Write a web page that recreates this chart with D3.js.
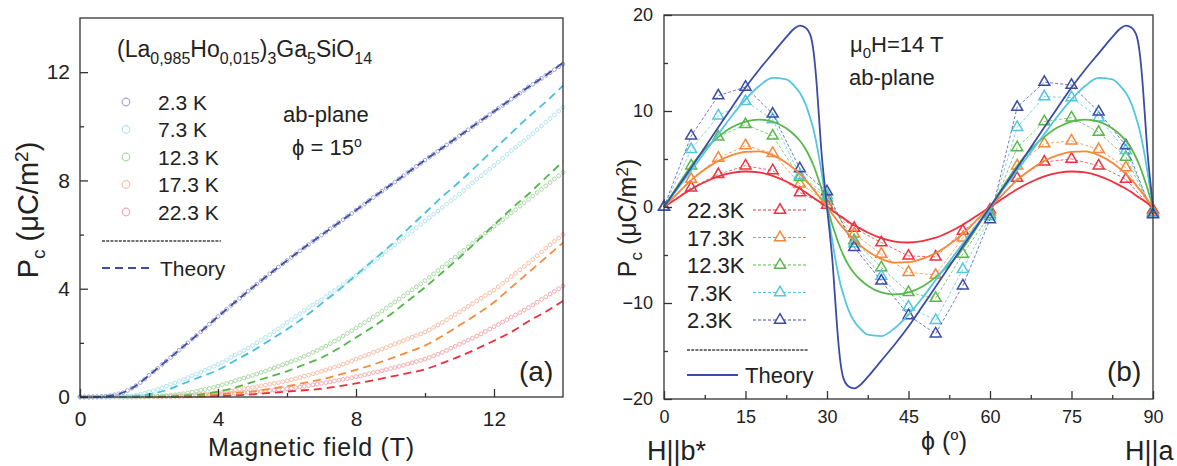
<!DOCTYPE html>
<html><head><meta charset="utf-8">
<script src="https://cdn.jsdelivr.net/npm/d3@7"></script>
<style>
body{margin:0;background:#fff}
svg{display:block}
text{font-family:"Liberation Sans",Arial,Helvetica,sans-serif;fill:#222}
</style>
</head><body>
<svg id="c" width="1177" height="466"></svg>
<script>
// ---------- DATA: panel (a) ----------
const tempLabelsA = ["2.3 K","7.3 K","12.3 K","17.3 K","22.3 K"];
const fieldData = [
 0,0.125,0.25,0.375,0.5,0.625,0.75,0.875,
 1,1.125,1.25,1.375,1.5,1.625,1.75,1.875,
 2,2.125,2.25,2.375,2.5,2.625,2.75,2.875,
 3,3.125,3.25,3.375,3.5,3.625,3.75,3.875,
 4,4.125,4.25,4.375,4.5,4.625,4.75,4.875,
 5,5.125,5.25,5.375,5.5,5.625,5.75,5.875,
 6,6.125,6.25,6.375,6.5,6.625,6.75,6.875,
 7,7.125,7.25,7.375,7.5,7.625,7.75,7.875,
 8,8.125,8.25,8.375,8.5,8.625,8.75,8.875,
 9,9.125,9.25,9.375,9.5,9.625,9.75,9.875,
 10,10.125,10.25,10.375,10.5,10.625,10.75,10.875,
 11,11.125,11.25,11.375,11.5,11.625,11.75,11.875,
 12,12.125,12.25,12.375,12.5,12.625,12.75,12.875,
 13,13.125,13.25,13.375,13.5,13.625,13.75,13.875,14];
const pc23 = [0,0,0,0.005,0.01,0.02,0.03,0.05,0.08,0.12,
 0.16,0.24,0.32,0.42,0.53,0.66,0.8,0.93,1.06,1.2,
 1.33,1.46,1.6,1.73,1.87,2.0,2.14,2.27,2.41,2.55,
 2.69,2.83,2.97,3.11,3.24,3.38,3.51,3.65,3.78,3.91,
 4.04,4.17,4.3,4.42,4.55,4.67,4.8,4.92,5.04,5.16,
 5.28,5.4,5.52,5.63,5.75,5.86,5.98,6.09,6.21,6.32,
 6.44,6.55,6.67,6.78,6.9,7.01,7.13,7.25,7.37,7.48,
 7.6,7.71,7.83,7.94,8.06,8.17,8.29,8.4,8.52,8.63,
 8.75,8.86,8.97,9.08,9.2,9.31,9.42,9.53,9.65,9.76,
 9.87,9.98,10.1,10.21,10.32,10.43,10.55,10.66,10.77,10.88,
 11.0,11.11,11.22,11.33,11.45,11.55,11.66,11.77,11.88,11.98,
 12.09,12.2,12.3];
const pc73 = [0,0,0,0,0,0,0,0.005,0.01,0.015,
 0.02,0.03,0.04,0.07,0.1,0.14,0.18,0.23,0.28,0.34,
 0.4,0.46,0.52,0.58,0.65,0.71,0.78,0.85,0.92,0.99,
 1.06,1.13,1.2,1.28,1.37,1.46,1.55,1.63,1.72,1.81,
 1.9,2.0,2.1,2.2,2.3,2.41,2.52,2.63,2.75,2.86,
 2.97,3.08,3.2,3.3,3.4,3.5,3.6,3.71,3.82,3.93,
 4.05,4.16,4.27,4.38,4.5,4.62,4.75,4.87,5.0,5.12,
 5.25,5.37,5.5,5.62,5.75,5.87,6.0,6.12,6.25,6.37,
 6.5,6.62,6.75,6.87,7.0,7.12,7.25,7.37,7.5,7.63,
 7.77,7.91,8.05,8.17,8.3,8.42,8.55,8.68,8.82,8.96,
 9.1,9.22,9.35,9.47,9.6,9.73,9.87,10.01,10.15,10.28,
 10.42,10.56,10.7];
const pc123 = [0,0,0,0,0,0,0,0.005,0.01,0.01,
 0.01,0.01,0.01,0.015,0.02,0.02,0.02,0.025,0.03,0.04,
 0.05,0.065,0.08,0.1,0.12,0.15,0.18,0.21,0.25,0.28,
 0.32,0.36,0.4,0.45,0.5,0.55,0.6,0.65,0.7,0.75,
 0.8,0.85,0.91,0.96,1.02,1.07,1.13,1.19,1.25,1.31,
 1.37,1.43,1.5,1.57,1.65,1.72,1.8,1.88,1.97,2.06,
 2.15,2.25,2.35,2.45,2.55,2.65,2.75,2.85,2.95,3.06,
 3.17,3.28,3.4,3.51,3.62,3.73,3.85,3.96,4.07,4.18,
 4.3,4.42,4.55,4.67,4.8,4.92,5.05,5.17,5.3,5.42,
 5.55,5.67,5.8,5.92,6.05,6.17,6.3,6.42,6.55,6.67,
 6.8,6.92,7.05,7.17,7.3,7.42,7.55,7.67,7.8,7.92,
 8.05,8.17,8.3];
const pc173 = [0,0,0,0,0,0,0,0,0,0,
 0,0,0,0.005,0.01,0.01,0.01,0.015,0.02,0.02,
 0.02,0.025,0.03,0.04,0.05,0.06,0.07,0.085,0.1,0.11,
 0.12,0.135,0.15,0.175,0.2,0.225,0.25,0.275,0.3,0.325,
 0.35,0.38,0.41,0.44,0.47,0.5,0.53,0.56,0.6,0.64,
 0.68,0.72,0.77,0.81,0.86,0.9,0.95,1.0,1.05,1.1,
 1.15,1.21,1.27,1.33,1.4,1.46,1.52,1.58,1.65,1.71,
 1.77,1.83,1.9,1.96,2.02,2.08,2.15,2.21,2.27,2.33,
 2.4,2.48,2.57,2.66,2.75,2.85,2.95,3.05,3.15,3.25,
 3.35,3.45,3.55,3.65,3.75,3.85,3.95,4.07,4.2,4.32,
 4.45,4.57,4.7,4.82,4.95,5.08,5.22,5.36,5.5,5.62,
 5.75,5.87,6.0];
const pc223 = [0,0,0,0,0,0,0,0,0,0,
 0,0,0,0,0,0.005,0.01,0.01,0.01,0.015,
 0.02,0.02,0.02,0.025,0.03,0.035,0.04,0.045,0.05,0.06,
 0.07,0.085,0.1,0.11,0.12,0.13,0.14,0.15,0.16,0.17,
 0.18,0.195,0.21,0.225,0.24,0.255,0.27,0.285,0.3,0.325,
 0.35,0.375,0.4,0.425,0.45,0.475,0.5,0.53,0.56,0.59,
 0.62,0.65,0.68,0.71,0.75,0.78,0.82,0.86,0.9,0.93,
 0.97,1.01,1.05,1.09,1.13,1.17,1.22,1.26,1.31,1.35,
 1.4,1.46,1.52,1.58,1.65,1.72,1.8,1.87,1.95,2.02,
 2.1,2.17,2.25,2.33,2.42,2.51,2.6,2.68,2.77,2.86,
 2.95,3.03,3.12,3.21,3.3,3.4,3.5,3.6,3.7,3.8,
 3.9,4.0,4.1];
const fieldTheory = [0,0.5,1,1.5,2,2.5,3,3.5,4,4.5,5,5.5,6,6.5,7,7.5,8,8.5,9,9.5,10,10.5,11,11.5,12,12.5,13,13.5,14];
const th23 = [0,0,0.07,0.32,0.8,1.33,1.87,2.41,2.97,3.51,4.04,4.55,5.04,5.52,5.98,6.44,6.9,7.37,7.83,8.29,8.75,9.2,9.65,10.1,10.55,11.0,11.45,11.88,12.35];
const th73 = [0,0,0,0.02,0.1,0.25,0.5,0.75,1.0,1.35,1.7,2.1,2.5,2.95,3.45,3.95,4.5,5.05,5.6,6.2,6.8,7.4,7.95,8.55,9.15,9.75,10.35,10.9,11.5];
const th123 = [0,0,0,0,0.01,0.02,0.05,0.1,0.2,0.35,0.55,0.75,0.95,1.2,1.45,1.8,2.2,2.6,3.05,3.55,4.05,4.6,5.15,5.75,6.35,6.95,7.5,8.1,8.7];
const th173 = [0,0,0,0,0,0,0.02,0.05,0.1,0.15,0.2,0.3,0.4,0.52,0.65,0.82,1.0,1.2,1.42,1.65,1.9,2.25,2.65,3.05,3.5,4.05,4.6,5.15,5.7];
const th223 = [0,0,0,0,0,0,0.01,0.02,0.04,0.06,0.1,0.15,0.2,0.25,0.3,0.4,0.5,0.62,0.75,0.88,1.02,1.25,1.5,1.78,2.08,2.4,2.8,3.15,3.55];
const ticksA = [0,4,8,12], minorA = [2,6,10];

// ---------- DATA: panel (b) ----------
const tempLabelsB = ["2.3K","7.3K","12.3K","17.3K","22.3K"];
const phiData = [0,5,10,15,20,25,30,35,40,45,50,55,60,65,70,75,80,85,90];
const pb23  = [0,7.4,11.6,12.5,9.7,4.0,1.6,-4.2,-7.7,-11.3,-13.2,-8.2,-1.3,10.4,13.0,12.7,9.9,6.4,-0.8];
const pb73  = [0,6.0,9.5,11.0,9.1,3.3,1.2,-3.8,-7.2,-10.4,-11.8,-6.5,-1.0,8.3,11.5,11.4,9.3,5.9,-0.7];
const pb123 = [0,4.3,7.3,8.6,7.4,3.1,0.9,-3.5,-6.3,-8.9,-9.5,-4.9,-0.8,6.2,8.9,9.3,7.8,5.2,-0.6];
const pb173 = [0,2.9,5.1,6.4,5.6,2.4,0.6,-2.8,-4.9,-6.8,-7.1,-3.2,-0.5,4.3,6.6,6.9,6.0,4.1,-0.5];
const pb223 = [0,2.0,3.4,4.3,3.8,1.5,0.2,-2.2,-3.7,-5.1,-5.2,-2.5,-0.3,3.0,4.7,5.0,4.3,2.9,-0.3];
const phiTheory = [0,2.5,5,7.5,10,12.5,15,17.5,20,22.5,24,25,26,27,27.5,28,28.5,29,29.5,30,
  30.5,31,31.5,32,32.5,33,34,35,36,37.5,40,42.5,45,47.5,50,52.5,55,57.5,60,
  62.5,65,67.5,70,72.5,75,77.5,80,82.5,84,85,86,87,87.5,88,88.5,89,89.5,90];
const tb23 = [0,2.05,4.1,6.2,8.3,10.4,12.45,14.3,16.0,17.7,18.6,18.9,18.7,17.8,16.3,13.5,9.6,5.6,2.7,0,
  -2.7,-5.6,-9.6,-13.5,-16.3,-17.8,-18.7,-18.9,-18.6,-17.7,-16.0,-14.3,-12.45,-10.4,-8.3,-6.2,-4.1,-2.05,0,
  2.05,4.1,6.2,8.3,10.4,12.45,14.3,16.0,17.7,18.6,18.9,18.7,17.8,16.3,13.5,9.6,5.6,2.7,0];
const tb73 = [0,1.9,3.8,5.7,7.6,9.5,11.2,12.6,13.45,13.3,12.6,11.9,10.8,9.1,8.1,6.8,5.3,3.6,1.85,0,
  -1.85,-3.6,-5.3,-6.8,-8.1,-9.1,-10.8,-11.9,-12.6,-13.3,-13.45,-12.6,-11.2,-9.5,-7.6,-5.7,-3.8,-1.9,0,
  1.9,3.8,5.7,7.6,9.5,11.2,12.6,13.45,13.3,12.6,11.9,10.8,9.1,8.1,6.8,5.3,3.6,1.85,0];
const tb123 = [0,2.2,4.3,6.0,7.3,8.3,8.9,9.1,8.9,8.2,7.5,6.9,6.1,5.0,4.35,3.6,2.75,1.9,0.95,0,
  -0.95,-1.9,-2.75,-3.6,-4.35,-5.0,-6.1,-6.9,-7.5,-8.2,-8.9,-9.1,-8.9,-8.3,-7.3,-6.0,-4.3,-2.2,0,
  2.2,4.3,6.0,7.3,8.3,8.9,9.1,8.9,8.2,7.5,6.9,6.1,5.0,4.35,3.6,2.75,1.9,0.95,0];
const tb173 = [0,1.4,2.8,3.9,4.8,5.4,5.75,5.8,5.4,4.6,3.95,3.45,2.85,2.2,1.85,1.5,1.12,0.75,0.38,0,
  -0.38,-0.75,-1.12,-1.5,-1.85,-2.2,-2.85,-3.45,-3.95,-4.6,-5.4,-5.8,-5.75,-5.4,-4.8,-3.9,-2.8,-1.4,0,
  1.4,2.8,3.9,4.8,5.4,5.75,5.8,5.4,4.6,3.95,3.45,2.85,2.2,1.85,1.5,1.12,0.75,0.38,0];
const tb223 = [0,0.95,1.85,2.6,3.2,3.55,3.7,3.6,3.25,2.65,2.2,1.9,1.55,1.15,0.97,0.78,0.58,0.39,0.19,0,
  -0.19,-0.39,-0.58,-0.78,-0.97,-1.15,-1.55,-1.9,-2.2,-2.65,-3.25,-3.6,-3.7,-3.55,-3.2,-2.6,-1.85,-0.95,0,
  0.95,1.85,2.6,3.2,3.55,3.7,3.6,3.25,2.65,2.2,1.9,1.55,1.15,0.97,0.78,0.58,0.39,0.19,0];
const ticksBx = [0,15,30,45,60,75,90], minorBx = [7.5,22.5,37.5,52.5,67.5,82.5];
const ticksBy = [-20,-10,0,10,20], minorBy = [-15,-5,5,15];

// ---------- STYLE ----------
const darkA = ["#3d4ea0","#45bfdc","#52b548","#f48a3a","#ec2d3c"];
const paleA = ["#a3a5d2","#b3e4f0","#a9d7a3","#f8bea6","#f5a9b0"];
const colB  = ["#3b4ca4","#55c6e0","#58b84c","#f5883a","#ee3040"];
const FONT = '"Liberation Sans",Arial,Helvetica,sans-serif';

const svg = d3.select("#c");

function frameAxes(x, y, xMaj, xMin, yMaj, yMin, fs, padX, padY) {
  const g = svg.append("g");
  const y0 = y.range()[0], x0 = x.range()[0];
  g.append("g").attr("transform",`translate(0,${y0})`)
    .call(d3.axisBottom(x).tickValues(xMaj).tickSizeInner(-8).tickSizeOuter(0).tickPadding(padX).tickFormat(d3.format("d")));
  g.append("g").attr("transform",`translate(0,${y0})`)
    .call(d3.axisBottom(x).tickValues(xMin).tickSizeInner(-4).tickSizeOuter(0).tickFormat(""));
  g.append("g").attr("transform",`translate(${x0},0)`)
    .call(d3.axisLeft(y).tickValues(yMaj).tickSizeInner(-8).tickSizeOuter(0).tickPadding(padY).tickFormat(d3.format("d")));
  g.append("g").attr("transform",`translate(${x0},0)`)
    .call(d3.axisLeft(y).tickValues(yMin).tickSizeInner(-4).tickSizeOuter(0).tickFormat(""));
  g.selectAll(".domain").remove();
  g.selectAll(".tick line").attr("stroke","#333").attr("stroke-width",1.3);
  g.selectAll(".tick text").attr("font-size",fs).attr("font-family",FONT).attr("fill","#222");
  const [xa,xb] = x.range(), [ya,yb] = y.range();
  g.append("rect").attr("x",xa).attr("y",yb).attr("width",xb-xa).attr("height",ya-yb)
    .attr("fill","none").attr("stroke","#333").attr("stroke-width",1.3);
}

function richText(parent, x, y, parts, fs, sfs, off) {
  const t = parent.append("text").attr("x",x).attr("y",y).attr("font-size",fs);
  let cur = 0;
  parts.forEach(p => {
    const target = p.sub ? off : (p.sup ? -off*1.4 : 0);
    t.append("tspan").attr("dy",target-cur).attr("font-size",(p.sub||p.sup)?sfs:fs).text(p.t);
    cur = target;
  });
  return t;
}

// ================= PANEL (a) =================
const xA = d3.scaleLinear().domain([0,14]).range([80,563]);
const yA = d3.scaleLinear().domain([0,14]).range([397,18]);

const dataA = [pc23,pc73,pc123,pc173,pc223];
const theoA = [th23,th73,th123,th173,th223];
const lineA = d3.line().x(d=>xA(d[0])).y(d=>yA(d[1])).curve(d3.curveMonotoneX);

for (let i = dataA.length-1; i >= 0; i--) {
  svg.append("g").selectAll("circle").data(fieldData.map((b,k)=>[b,dataA[i][k]])).join("circle")
    .attr("cx",d=>xA(d[0])).attr("cy",d=>yA(d[1])).attr("r",1.9)
    .attr("fill","none").attr("stroke",paleA[i]).attr("stroke-width",1);
}
for (let i = theoA.length-1; i >= 0; i--) {
  svg.append("path").datum(fieldTheory.map((b,k)=>[b,theoA[i][k]]))
    .attr("d",lineA).attr("fill","none").attr("stroke",darkA[i])
    .attr("stroke-width",1.8).attr("stroke-dasharray","8,5");
}
frameAxes(xA, yA, ticksA, minorA, ticksA, minorA, 21, 14, 10);

richText(svg, 117, 57, [{t:"(La"},{t:"0,985",sub:1},{t:"Ho"},{t:"0,015",sub:1},{t:")"},{t:"3",sub:1},{t:"Ga"},{t:"5",sub:1},{t:"SiO"},{t:"14",sub:1}], 23, 16, 7);
tempLabelsA.forEach((s,i) => {
  const cy = 102 + i*27.5;
  svg.append("circle").attr("cx",126).attr("cy",cy).attr("r",3.8).attr("fill","none").attr("stroke",paleA[i]).attr("stroke-width",1.2);
  svg.append("text").attr("x",158).attr("y",cy+7.5).attr("font-size",21).text(s);
});
svg.append("line").attr("x1",102).attr("x2",221).attr("y1",241).attr("y2",241)
  .attr("stroke","#444").attr("stroke-width",1.6).attr("stroke-dasharray","3,1.2");
svg.append("line").attr("x1",102).attr("x2",152).attr("y1",268).attr("y2",268)
  .attr("stroke",darkA[0]).attr("stroke-width",1.8).attr("stroke-dasharray","8,5");
svg.append("text").attr("x",160).attr("y",276).attr("font-size",21).text("Theory");
svg.append("text").attr("x",283).attr("y",122).attr("font-size",22).text("ab-plane");
richText(svg, 292, 155, [{t:"ϕ = 15"},{t:"o",sup:1}], 22, 14, 6);
svg.append("text").attr("x",519).attr("y",381).attr("font-size",28).attr("fill","#444").text("(a)");
svg.append("text").attr("x",208).attr("y",456).attr("font-size",25).attr("textLength",206).attr("lengthAdjust","spacing").text("Magnetic field (T)");
{
  const g = svg.append("g").attr("transform","translate(38,210) rotate(-90)");
  richText(g, 0, 0, [{t:"P"},{t:"c",sub:1},{t:" (μC/m"},{t:"2",sup:1},{t:")"}], 29, 19, 7).attr("text-anchor","middle");
}

// ================= PANEL (b) =================
const xB = d3.scaleLinear().domain([0,90]).range([664,1153]);
const yB = d3.scaleLinear().domain([-20,20]).range([399,15]);
const dataB = [pb23,pb73,pb123,pb173,pb223];
const theoB = [tb23,tb73,tb123,tb173,tb223];
const lineB = d3.line().x(d=>xB(d[0])).y(d=>yB(d[1]));
const lineBs = d3.line().x(d=>xB(d[0])).y(d=>yB(d[1])).curve(d3.curveMonotoneX);
const tri = d3.symbol().type(d3.symbolTriangle).size(52);

for (let i = dataB.length-1; i >= 0; i--) {
  const pts = phiData.map((p,k)=>[p,dataB[i][k]]);
  svg.append("path").datum(pts).attr("d",lineB).attr("fill","none")
    .attr("stroke",colB[i]).attr("stroke-opacity",0.75).attr("stroke-width",1).attr("stroke-dasharray","3,2");
  svg.append("g").selectAll("path").data(pts).join("path")
    .attr("transform",d=>`translate(${xB(d[0])},${yB(d[1])})`).attr("d",tri)
    .attr("fill","none").attr("stroke",colB[i]).attr("stroke-width",1.5);
}
for (let i = theoB.length-1; i >= 0; i--) {
  svg.append("path").datum(phiTheory.map((p,k)=>[p,theoB[i][k]]))
    .attr("d",lineBs).attr("fill","none").attr("stroke",colB[i]).attr("stroke-width",1.8);
}
frameAxes(xB, yB, ticksBx, minorBx, ticksBy, minorBy, 18, 11, 11);

const legOrder = [4,3,2,1,0];
legOrder.forEach((si,row) => {
  const cy = 210 + row*27.5;
  svg.append("text").attr("x",687).attr("y",cy+8).attr("font-size",22).text(tempLabelsB[si]);
  svg.append("line").attr("x1",753).attr("x2",807).attr("y1",cy).attr("y2",cy)
    .attr("stroke",colB[si]).attr("stroke-width",1).attr("stroke-dasharray","3,2");
  svg.append("path").attr("transform",`translate(780,${cy})`).attr("d",tri)
    .attr("fill","#fff").attr("stroke",colB[si]).attr("stroke-width",1.5);
});
svg.append("line").attr("x1",687).attr("x2",808).attr("y1",350).attr("y2",350)
  .attr("stroke","#444").attr("stroke-width",1.6).attr("stroke-dasharray","3,1.2");
svg.append("line").attr("x1",687).attr("x2",738).attr("y1",375).attr("y2",375)
  .attr("stroke",colB[0]).attr("stroke-width",1.8);
svg.append("text").attr("x",745).attr("y",383).attr("font-size",22).text("Theory");

richText(svg, 850, 52, [{t:"μ"},{t:"0",sub:1},{t:"H=14 T"}], 22, 15, 6);
svg.append("text").attr("x",849).attr("y",85).attr("font-size",22).text("ab-plane");
svg.append("text").attr("x",1107).attr("y",381).attr("font-size",28).attr("fill","#444").text("(b)");
svg.append("text").attr("x",647).attr("y",460).attr("font-size",27).text("H||b*");
svg.append("text").attr("x",1125).attr("y",460).attr("font-size",27).text("H||a");
richText(svg, 921, 450, [{t:"ϕ ("},{t:"o",sup:1},{t:")"}], 25, 15, 7);
{
  const g = svg.append("g").attr("transform","translate(636,218) rotate(-90)");
  richText(g, 0, 0, [{t:"P"},{t:"c",sub:1},{t:" (μC/m"},{t:"2",sup:1},{t:")"}], 25, 17, 6).attr("text-anchor","middle");
}
</script>
</body></html>
